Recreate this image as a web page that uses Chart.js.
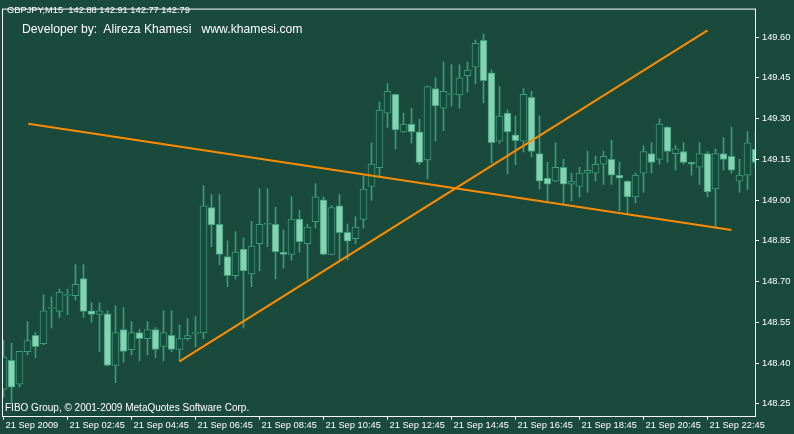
<!DOCTYPE html>
<html lang="en">
<head>
<meta charset="UTF-8">
<title>GBPJPY M15</title>
<script src="https://cdn.jsdelivr.net/npm/chart.js@4.4.1/dist/chart.umd.min.js"></script>
<style>
    body { margin: 0; background: #1a4a3b; }
    #wrap { position: relative; width: 794px; height: 434px; }
    .txt { position: absolute; color: #fff; font-family: "Liberation Sans", Arial, sans-serif; white-space: pre; line-height: 1; }
</style>
</head>
<body>
<div id="wrap">
    <canvas id="chart" width="794" height="434"></canvas>
    <div class="txt" style="left:7px; top:5.5px; font-size:9.3px;">GBPJPY,M15  142.88 142.91 142.77 142.79</div>
    <div class="txt" style="left:22px; top:22.5px; font-size:12.2px;">Developer by:  Alireza Khamesi   www.khamesi.com</div>
    <div class="txt" style="left:5px; top:403px; font-size:10px;">FIBO Group, © 2001-2009 MetaQuotes Software Corp.</div>
</div>

<script>
// 15 minute bars, 21 Sep 2009
const opens = [
    148.303, 148.410, 148.322, 148.442, 148.502, 148.471, 148.601, 148.590, 148.648, 148.648,
    148.711, 148.592, 148.579, 148.581, 148.391, 148.523, 148.449, 148.512, 148.490, 148.523,
    148.461, 148.502, 148.450, 148.490, 148.509, 148.511, 148.972, 148.911, 148.792, 148.722,
    148.820, 148.728, 148.840, 148.910, 148.911, 148.809, 148.800, 148.930, 148.840, 148.921,
    149.001, 148.800, 148.979, 148.881, 148.858, 148.929, 149.050, 149.119, 149.320, 149.389,
    149.251, 149.280, 149.251, 149.148, 149.411, 149.338, 149.388, 149.387, 149.458, 149.489,
    149.588, 149.469, 149.217, 149.320, 149.240, 149.217, 149.378, 149.171, 149.081, 149.070,
    149.121, 149.059, 149.050, 149.099, 149.099, 149.132, 149.150, 149.092, 149.070, 149.012,
    149.099, 149.171, 149.150, 149.269, 149.171, 149.179, 149.139, 149.121, 149.171, 149.041,
    149.171, 149.161, 149.070, 149.092, 149.187
];
const highs = [
    148.484, 148.473, 148.443, 148.553, 148.512, 148.651, 148.644, 148.672, 148.672, 148.763,
    148.763, 148.623, 148.622, 148.592, 148.611, 148.604, 148.553, 148.524, 148.553, 148.531,
    148.592, 148.592, 148.541, 148.564, 148.571, 149.053, 149.020, 149.020, 148.850, 148.883,
    148.861, 148.922, 149.042, 149.042, 148.973, 148.890, 149.013, 148.962, 148.911, 149.060,
    149.012, 148.980, 149.020, 148.912, 148.939, 149.089, 149.211, 149.361, 149.429, 149.391,
    149.320, 149.338, 149.298, 149.420, 149.451, 149.508, 149.499, 149.499, 149.508, 149.589,
    149.611, 149.479, 149.418, 149.331, 149.309, 149.411, 149.400, 149.309, 149.139, 149.211,
    149.150, 149.099, 149.121, 149.180, 149.162, 149.180, 149.220, 149.140, 149.072, 149.099,
    149.201, 149.212, 149.299, 149.271, 149.201, 149.212, 149.141, 149.212, 149.179, 149.189,
    149.230, 149.269, 149.150, 149.252, 149.252
];
const lows = [
    148.274, 148.252, 148.311, 148.430, 148.420, 148.468, 148.529, 148.568, 148.578, 148.632,
    148.568, 148.550, 148.442, 148.389, 148.328, 148.402, 148.430, 148.408, 148.430, 148.420,
    148.408, 148.442, 148.408, 148.483, 148.459, 148.490, 148.829, 148.761, 148.681, 148.710,
    148.529, 148.681, 148.739, 148.829, 148.710, 148.750, 148.779, 148.808, 148.710, 148.898,
    148.798, 148.798, 148.782, 148.779, 148.840, 148.898, 149.000, 149.084, 149.268, 149.188,
    149.249, 149.210, 149.130, 149.079, 149.217, 149.256, 149.347, 149.338, 149.398, 149.429,
    149.358, 149.137, 149.210, 149.096, 149.130, 149.177, 149.159, 149.041, 148.994, 149.068,
    148.987, 148.997, 149.012, 149.029, 149.070, 149.058, 149.058, 148.961, 148.949, 148.990,
    149.029, 149.099, 149.132, 149.139, 149.110, 149.132, 149.092, 149.058, 149.012, 148.897,
    149.110, 149.099, 149.029, 149.039, 149.114
];
const closes = [
    148.422, 148.311, 148.443, 148.483, 148.460, 148.592, 148.605, 148.661, 148.652, 148.690,
    148.590, 148.579, 148.592, 148.391, 148.512, 148.443, 148.512, 148.490, 148.523, 148.450,
    148.512, 148.450, 148.490, 148.501, 148.513, 148.979, 148.909, 148.800, 148.722, 148.809,
    148.739, 148.831, 148.911, 148.914, 148.809, 148.800, 148.930, 148.847, 148.901, 149.012,
    148.800, 148.972, 148.880, 148.849, 148.901, 149.041, 149.133, 149.331, 149.400, 149.258,
    149.280, 149.251, 149.139, 149.418, 149.347, 149.400, 149.392, 149.450, 149.479, 149.577,
    149.440, 149.211, 149.309, 149.251, 149.219, 149.389, 149.179, 149.070, 149.059, 149.121,
    149.059, 149.070, 149.099, 149.110, 149.132, 149.161, 149.092, 149.081, 149.012, 149.092,
    149.179, 149.139, 149.280, 149.179, 149.189, 149.139, 149.132, 149.171, 149.030, 149.171,
    149.150, 149.110, 149.092, 149.211, 149.139
];

// time scale labels (bar index -> text)
const timeTickBars = [0, 8, 16, 24, 32, 40, 48, 56, 64, 72, 80, 88];
const timeLabels = ['21 Sep 2009', '21 Sep 02:45', '21 Sep 04:45', '21 Sep 06:45', '21 Sep 08:45', '21 Sep 10:45',
    '21 Sep 12:45', '21 Sep 14:45', '21 Sep 16:45', '21 Sep 18:45', '21 Sep 20:45', '21 Sep 22:45'];
const priceTicks = [148.25, 148.40, 148.55, 148.70, 148.85, 149.00, 149.15, 149.30, 149.45, 149.60];

// hand drawn trend lines (bar index, price)
const trendDown = [{x: 3.1, y: 149.281}, {x: 91.0, y: 148.890}];
const trendUp = [{x: 22.0, y: 148.406}, {x: 88.0, y: 149.625}];

const BG = '#1a4a3b';
const WICK = '#3d9a7a';
const BEAR = '#86d2b0';
const WHITE = '#ffffff';
const AXIS_FONT = { family: '"Liberation Sans", Arial, sans-serif', size: 9.3 };

const wickData = opens.map((o, i) => ({ x: i, y: [lows[i], highs[i]] }));
const bodyData = opens.map((o, i) => ({ x: i, y: [o, closes[i]] }));
const bodyFill = opens.map((o, i) => closes[i] < o ? BEAR : BG);

const frame = {
    id: 'frame',
    afterDatasetsDraw(chart) {
        const a = chart.chartArea;
        const ctx = chart.ctx;
        ctx.save();
        ctx.strokeStyle = WHITE;
        ctx.lineWidth = 1;
        ctx.strokeRect(a.left + 0.5, a.top + 0.5, a.right - a.left - 1, a.bottom - a.top - 1);
        ctx.restore();
    }
};

new Chart(document.getElementById('chart'), {
    data: {
        datasets: [
            {
                type: 'line', data: trendDown, borderColor: '#ff8c00', borderWidth: 2,
                pointRadius: 0, order: 1
            },
            {
                type: 'line', data: trendUp, borderColor: '#ff8c00', borderWidth: 2,
                pointRadius: 0, order: 1
            },
            {
                type: 'bar', data: bodyData, backgroundColor: bodyFill, borderColor: WICK,
                borderWidth: 1, borderSkipped: false, barThickness: 7, grouped: false, order: 2
            },
            {
                type: 'bar', data: wickData, backgroundColor: WICK, borderWidth: 0,
                barThickness: 1, grouped: false, order: 3
            }
        ]
    },
    options: {
        responsive: false,
        animation: false,
        layout: { padding: { left: 2, top: 2, right: 0, bottom: 0 } },
        plugins: { legend: { display: false }, tooltip: { enabled: false } },
        scales: {
            x: {
                type: 'linear',
                offset: false,
                min: -0.1875,
                max: 94.0625,
                afterBuildTicks: s => { s.ticks = timeTickBars.map(v => ({ value: v })); },
                afterFit: s => { s.height = 17; },
                grid: { offset: false, drawOnChartArea: false, tickLength: 3, tickColor: WHITE },
                border: { display: false },
                ticks: {
                    color: WHITE, font: AXIS_FONT, autoSkip: false, maxRotation: 0,
                    align: 'start', labelOffset: 2, padding: 0,
                    callback: (v, i) => timeLabels[i]
                }
            },
            y: {
                position: 'right',
                min: 148.2014,
                max: 149.7051,
                afterBuildTicks: s => { s.ticks = priceTicks.map(v => ({ value: v })); },
                afterFit: s => { s.width = 38; },
                grid: { drawOnChartArea: false, tickLength: 3, tickColor: WHITE },
                border: { display: false },
                ticks: {
                    color: WHITE, font: AXIS_FONT, padding: 3,
                    callback: v => v.toFixed(2)
                }
            }
        }
    },
    plugins: [frame]
});
</script>
</body>
</html>
